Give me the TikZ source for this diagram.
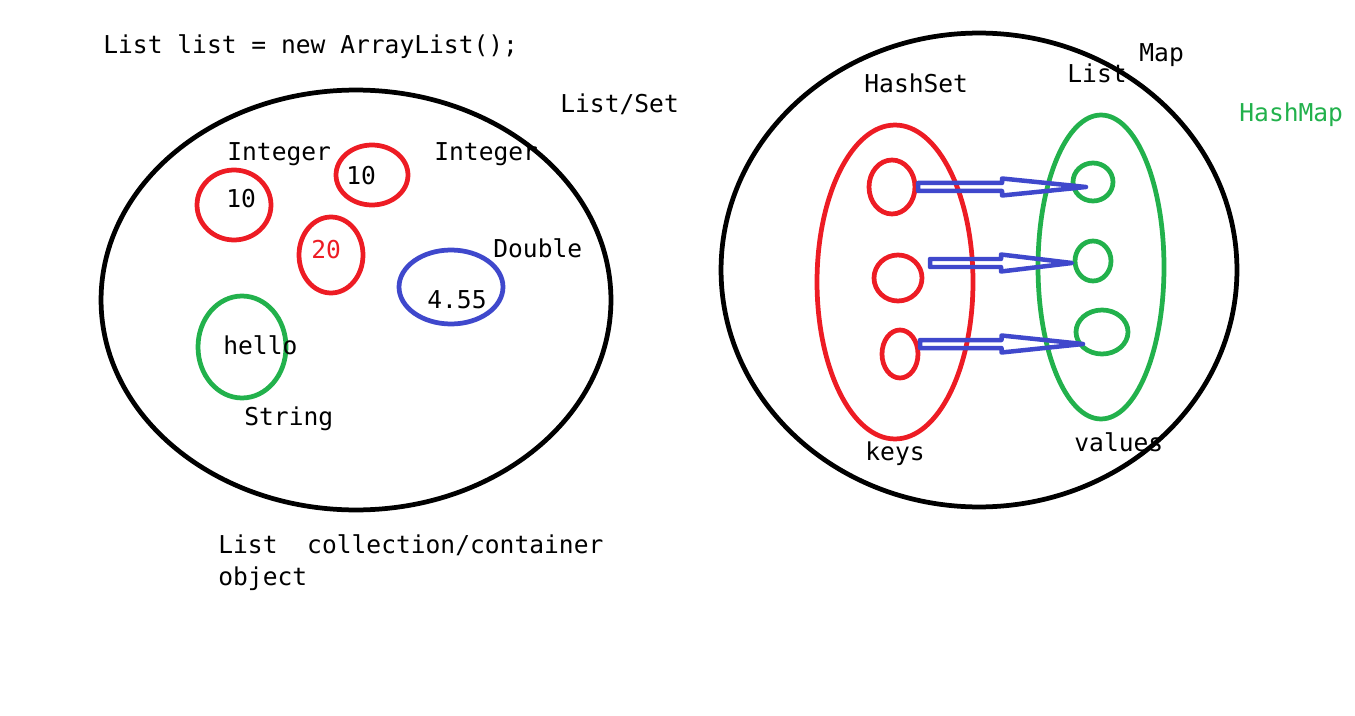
\documentclass[tikz,border=0pt]{standalone}
\usepackage{fontspec}
\setmonofont{DejaVu Sans Mono}
\usetikzlibrary{shapes.geometric,calc}
\definecolor{paintred}{RGB}{237,28,36}
\definecolor{paintgreen}{RGB}{34,177,76}
\definecolor{paintblue}{RGB}{63,72,204}

\begin{document}
\begin{tikzpicture}[x=0.02cm, y=-0.02cm, line width=0.095cm, font=\ttfamily\fontsize{14pt}{18pt}\selectfont,
    txt/.style={anchor=base west, inner sep=0pt},
    oval/.style={ellipse, draw, inner sep=0pt},
    maparrow/.style={draw=paintblue, line width=0.09cm, line join=round}]
    \useasboundingbox (0,0) rectangle (1355,716);
    \node[oval, minimum width=10.2cm, minimum height=8.4cm] (listbox) at (356,300) {};
    \node[oval, minimum width=10.32cm, minimum height=9.48cm] (mapbox) at (979,270) {};
    \foreach \n/\c/\x/\y/\w/\h in {i1/paintred/234/205/1.48/1.4, i2/paintred/372/175/1.44/1.2, i3/paintred/331/255/1.28/1.52,
        d1/paintblue/451/287/2.08/1.48, s1/paintgreen/242/347/1.76/2.04,
        keyset/paintred/895/282/3.12/6.28, valset/paintgreen/1101/267/2.52/6.08,
        k1/paintred/892/187/0.92/1.08, k2/paintred/898/278/0.96/0.92, k3/paintred/900/354/0.72/0.96,
        v1/paintgreen/1093/182/0.8/0.76, v2/paintgreen/1093/261/0.72/0.8, v3/paintgreen/1102/332/1.04/0.88}
        {\node[oval, draw=\c, minimum width=\w cm, minimum height=\h cm] (\n) at (\x,\y) {};}
    \foreach \i/\a/\b/\y in {1/918/1086/187, 2/930/1072/263, 3/920/1083/344}{
        \coordinate (tail\i) at (\a,\y);
        \coordinate (tip\i) at (\b,\y);
        \coordinate (neck\i) at ($(tail\i)!0.5!(tip\i)$);
        \draw[maparrow] ($(tail\i)+(0,-4)$) -- ($(neck\i)+(0,-4)$) -- ($(neck\i)+(0,-8.5)$) -- (tip\i)
            -- ($(neck\i)+(0,8.5)$) -- ($(neck\i)+(0,4)$) -- ($(tail\i)+(0,4)$) -- cycle;
    }
    \node[txt] (code) at (101,54) {List list = new ArrayList();};
    \node[txt] (lsname) at (558,113) {List/Set};
    \node[txt] (int1) at (225,161) {Integer};
    \node[txt] (int2) at (432,161) {Integer};
    \node[txt] (ten1) at (224,208) {10};
    \node[txt] (ten2) at (344,185) {10};
    \node[txt, text=paintred] (twenty) at (309,258) {20};
    \node[txt] (dbl) at (491,257) {Double};
    \node[txt] (num) at (425,308) {4.55};
    \node[txt] (hello) at (221,354) {hello};
    \node[txt] (str) at (242,425) {String};
    \node[txt] (caption) at (216,553) {List~~collection/container};
    \node[txt] (caption2) at (216,585) {object};
    \node[txt] (hset) at (862,93) {HashSet};
    \node[txt] (lst) at (1065,83) {List};
    \node[txt] (map) at (1137,62) {Map};
    \node[txt, text=paintgreen] (hmap) at (1237,122) {HashMap};
    \node[txt] (keys) at (863,460) {keys};
    \node[txt] (vals) at (1072,451) {values};
\end{tikzpicture}
\end{document}
